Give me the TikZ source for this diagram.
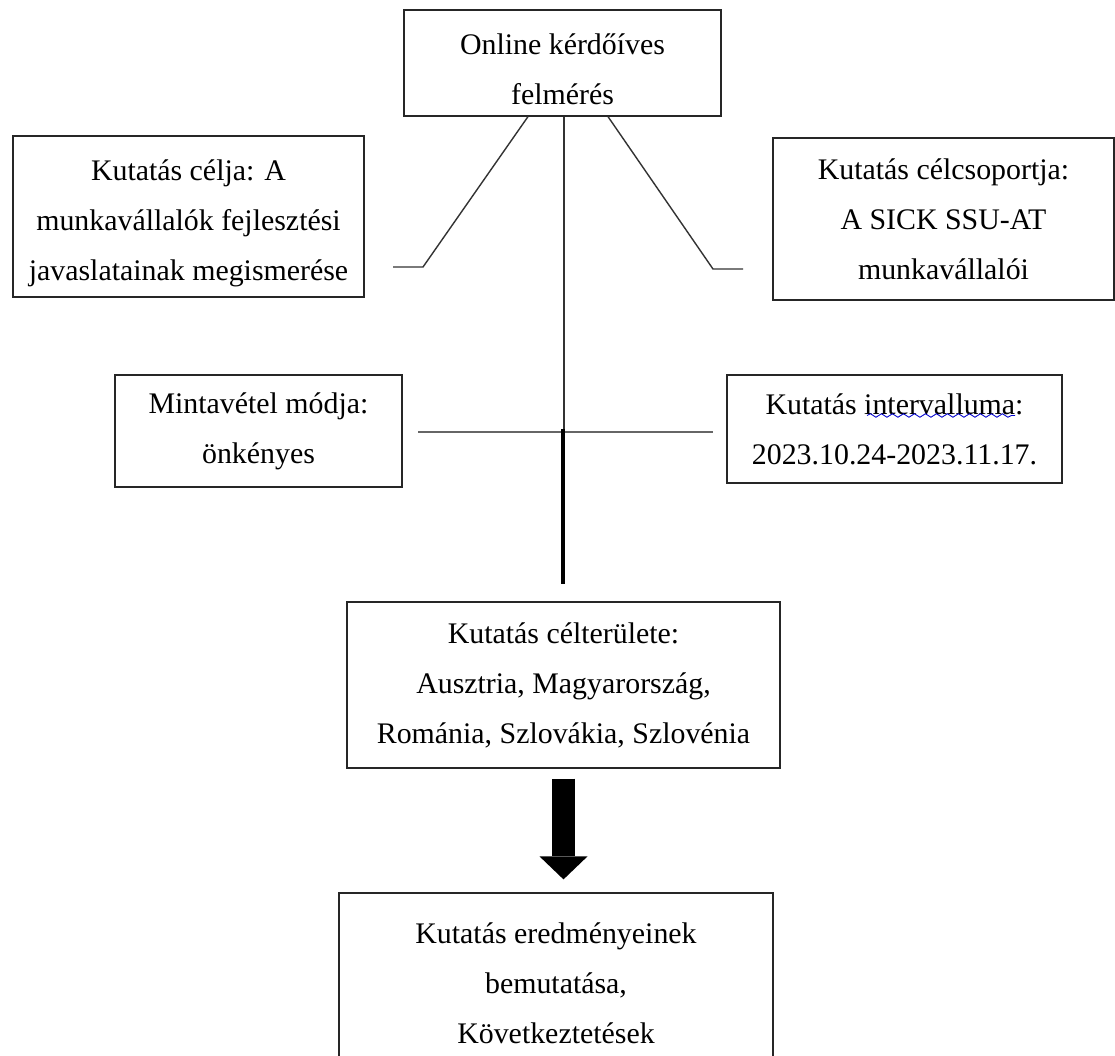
\documentclass[tikz,border=0pt]{standalone}
\usepackage{fontspec}
\setmainfont{Liberation Serif}
\usetikzlibrary{arrows.meta, calc, decorations.pathmorphing}

\newcommand{\lowstrut}{\rule{0pt}{0.68cm}}

\begin{document}
\begin{tikzpicture}[
    box/.style={
        draw=black!85,
        line width=0.7pt,
        fill=white,
        align=center,
        inner sep=0pt,
        font=\fontsize{17}{28.5}\selectfont
    },
    thinlink/.style={
        draw=black!80,
        line width=0.8pt
    },
    greylink/.style={
        draw=black!60,
        line width=1.2pt
    },
    boldlink/.style={
        draw=black,
        line width=1.8pt
    },
    bigarrow/.style={
        draw=black,
        line width=0.46cm,
        -{Triangle[width=0.96cm, length=0.46cm, line width=0pt]}
    },
    spellmark/.style={
        draw=blue!80!black,
        line width=0.5pt,
        decorate,
        decoration={snake, amplitude=0.35mm, segment length=2.2mm}
    }
]

\useasboundingbox (0,0) rectangle (22.3,-21.12);
\clip (0,0) rectangle (22.3,-21.12);

% Boxes
\node[box, minimum width=6.34cm, minimum height=2.12cm] (online) at (11.25,-1.26) {\lowstrut Online kérdőíves\\felmérés};

\node[box, minimum width=7.02cm, minimum height=3.22cm] (celja) at (3.77,-4.33) {\lowstrut Kutatás célja: A\\munkavállalók fejlesztési\\javaslatainak megismerése};

\node[box, minimum width=6.82cm, minimum height=3.24cm] (celcsoport) at (18.87,-4.38) {Kutatás célcsoportja:\\A SICK SSU-AT\\munkavállalói};

\node[box, minimum width=5.74cm, minimum height=2.24cm] (minta) at (5.17,-8.62) {Mintavétel módja:\\önkényes};

\node[box, minimum width=6.70cm, minimum height=2.16cm] (interv) at (17.89,-8.58) {Kutatás intervalluma:\\2023.10.24-2023.11.17.};
\draw[spellmark] ($(interv.center)+(-0.55,0.27)$) -- ($(interv.center)+(2.41,0.27)$);

\node[box, minimum width=8.66cm, minimum height=3.32cm] (celterulet) at (11.27,-13.70) {Kutatás célterülete:\\Ausztria, Magyarország,\\Románia, Szlovákia, Szlovénia};

\node[box, minimum width=8.68cm, minimum height=3.60cm] (eredmeny) at (11.12,-19.66) {Kutatás eredményeinek\\bemutatása,\\Következtetések};

% Free ends of the branches
\coordinate (lknee) at (8.46,-5.34);
\coordinate (lend) at (7.86,-5.34);
\coordinate (rknee) at (14.26,-5.38);
\coordinate (rend) at (14.86,-5.38);
\coordinate (hub) at (11.28,-8.64);
\coordinate (hleft) at (8.36,-8.64);
\coordinate (hright) at (14.26,-8.64);
\coordinate (stemtop) at (11.26,-8.58);
\coordinate (stembot) at (11.26,-11.68);

% Branches
\draw[thinlink] ($(online.south)+(-0.69,0)$) -- (lknee) -- (lend);
\draw[thinlink] ($(online.south)+(0.91,0)$) -- (rknee) -- (rend);
\draw[thinlink] ($(online.south)+(0.03,0)$) -- (hub);
\draw[greylink] (hleft) -- (hright);
\draw[boldlink] (stemtop) -- (stembot);

% Arrow down
\draw[bigarrow] ($(celterulet.south)+(0,-0.2)$) -- ($(celterulet.south |- eredmeny.north)+(0,0.26)$);

\end{tikzpicture}
\end{document}
